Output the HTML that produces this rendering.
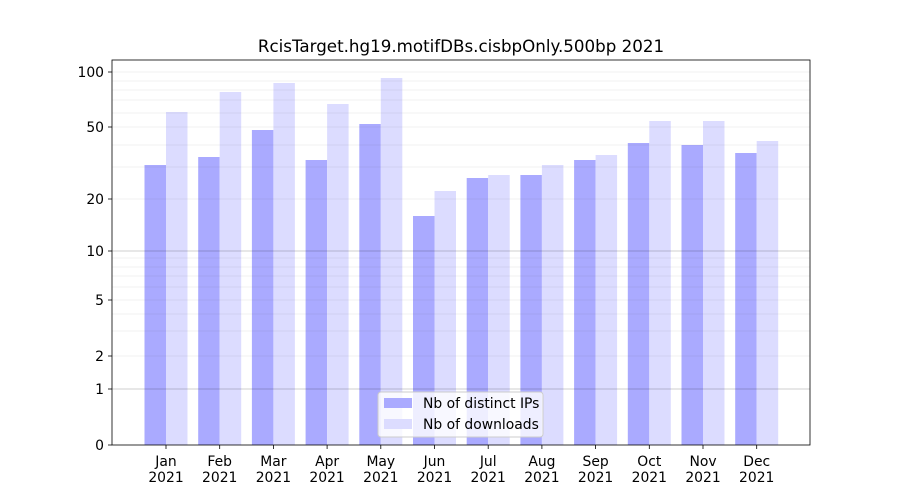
<!DOCTYPE html>
<html><head><meta charset="utf-8"><style>body{margin:0;background:#fff}svg{display:block}text{font-family:"DejaVu Sans","Liberation Sans",sans-serif;fill:#000}</style></head><body>
<svg width="900" height="500" viewBox="0 0 900 500">
<rect width="900" height="500" fill="#fff"/>
<g fill="#aaaaff">
<rect x="144.5" y="165" width="21.5" height="280"/>
<rect x="198.2" y="157" width="21.5" height="288"/>
<rect x="251.9" y="130" width="21.5" height="315"/>
<rect x="305.6" y="160" width="21.5" height="285"/>
<rect x="359.3" y="124" width="21.5" height="321"/>
<rect x="413" y="216" width="21.5" height="229"/>
<rect x="466.7" y="178" width="21.5" height="267"/>
<rect x="520.4" y="175" width="21.5" height="270"/>
<rect x="574.1" y="160" width="21.5" height="285"/>
<rect x="627.8" y="143" width="21.5" height="302"/>
<rect x="681.5" y="145" width="21.5" height="300"/>
<rect x="735.2" y="153" width="21.5" height="292"/>
</g>
<g fill="#dcdcff">
<rect x="166" y="112" width="21.5" height="333"/>
<rect x="219.7" y="92" width="21.5" height="353"/>
<rect x="273.4" y="83" width="21.5" height="362"/>
<rect x="327.1" y="104" width="21.5" height="341"/>
<rect x="380.8" y="78" width="21.5" height="367"/>
<rect x="434.5" y="191" width="21.5" height="254"/>
<rect x="488.2" y="175" width="21.5" height="270"/>
<rect x="541.9" y="165" width="21.5" height="280"/>
<rect x="595.6" y="155" width="21.5" height="290"/>
<rect x="649.3" y="121" width="21.5" height="324"/>
<rect x="703" y="121" width="21.5" height="324"/>
<rect x="756.7" y="141" width="21.5" height="304"/>
</g>
<g stroke="#000" stroke-opacity="0.07" stroke-width="0.8">
<line x1="112" x2="810" y1="331" y2="331"/><line x1="112" x2="810" y1="314" y2="314"/>
<line x1="112" x2="810" y1="287" y2="287"/><line x1="112" x2="810" y1="276" y2="276"/>
<line x1="112" x2="810" y1="267" y2="267"/><line x1="112" x2="810" y1="258" y2="258"/>
<line x1="112" x2="810" y1="167" y2="167"/><line x1="112" x2="810" y1="145" y2="145"/>
<line x1="112" x2="810" y1="113" y2="113"/><line x1="112" x2="810" y1="100" y2="100"/>
<line x1="112" x2="810" y1="90" y2="90"/><line x1="112" x2="810" y1="81" y2="81"/>
<line x1="112" x2="810" y1="356" y2="356"/><line x1="112" x2="810" y1="300" y2="300"/>
<line x1="112" x2="810" y1="199" y2="199"/><line x1="112" x2="810" y1="127" y2="127"/>
<line x1="112" x2="810" y1="72" y2="72"/>
</g>
<g stroke="#000" stroke-opacity="0.25" stroke-width="0.8">
<line x1="112" x2="810" y1="389" y2="389"/><line x1="112" x2="810" y1="251" y2="251"/>
</g>
<g stroke="#000" stroke-width="0.8">
<line x1="166" x2="166" y1="445" y2="449"/><line x1="219.7" x2="219.7" y1="445" y2="449"/>
<line x1="273.4" x2="273.4" y1="445" y2="449"/><line x1="327.1" x2="327.1" y1="445" y2="449"/>
<line x1="380.8" x2="380.8" y1="445" y2="449"/><line x1="434.5" x2="434.5" y1="445" y2="449"/>
<line x1="488.2" x2="488.2" y1="445" y2="449"/><line x1="541.9" x2="541.9" y1="445" y2="449"/>
<line x1="595.6" x2="595.6" y1="445" y2="449"/><line x1="649.3" x2="649.3" y1="445" y2="449"/>
<line x1="703" x2="703" y1="445" y2="449"/><line x1="756.7" x2="756.7" y1="445" y2="449"/>
</g>
<g font-size="13.9" text-anchor="middle">
<text x="166" y="466">Jan</text><text x="166" y="482">2021</text>
<text x="219.7" y="466">Feb</text><text x="219.7" y="482">2021</text>
<text x="273.4" y="466">Mar</text><text x="273.4" y="482">2021</text>
<text x="327.1" y="466">Apr</text><text x="327.1" y="482">2021</text>
<text x="380.8" y="466">May</text><text x="380.8" y="482">2021</text>
<text x="434.5" y="466">Jun</text><text x="434.5" y="482">2021</text>
<text x="488.2" y="466">Jul</text><text x="488.2" y="482">2021</text>
<text x="541.9" y="466">Aug</text><text x="541.9" y="482">2021</text>
<text x="595.6" y="466">Sep</text><text x="595.6" y="482">2021</text>
<text x="649.3" y="466">Oct</text><text x="649.3" y="482">2021</text>
<text x="703" y="466">Nov</text><text x="703" y="482">2021</text>
<text x="756.7" y="466">Dec</text><text x="756.7" y="482">2021</text>
</g>
<rect x="112" y="60" width="698" height="385" fill="none" stroke="#000" stroke-width="0.8"/>
<g stroke="#000" stroke-width="0.8">
<line x1="108" x2="112" y1="445" y2="445"/><line x1="108" x2="112" y1="389" y2="389"/>
<line x1="108" x2="112" y1="356" y2="356"/><line x1="108" x2="112" y1="300" y2="300"/>
<line x1="108" x2="112" y1="251" y2="251"/><line x1="108" x2="112" y1="199" y2="199"/>
<line x1="108" x2="112" y1="127" y2="127"/><line x1="108" x2="112" y1="72" y2="72"/>
</g>
<g font-size="13.9" text-anchor="end">
<text x="104" y="450">0</text><text x="104" y="394">1</text><text x="104" y="361">2</text>
<text x="104" y="305">5</text><text x="104" y="256">10</text><text x="104" y="204">20</text>
<text x="104" y="132">50</text><text x="104" y="77">100</text>
</g>
<text x="461" y="52" font-size="16.7" text-anchor="middle">RcisTarget.hg19.motifDBs.cisbpOnly.500bp 2021</text>
<rect x="378" y="392" width="165" height="45" rx="3" fill="#fff" fill-opacity="0.8" stroke="#ccc"/>
<rect x="384" y="398" width="28" height="10" fill="#aaaaff"/>
<rect x="384" y="419" width="28" height="10" fill="#dcdcff"/>
<text x="423" y="408" font-size="13.9">Nb of distinct IPs</text>
<text x="423" y="429" font-size="13.9">Nb of downloads</text>
</svg>
</body></html>
